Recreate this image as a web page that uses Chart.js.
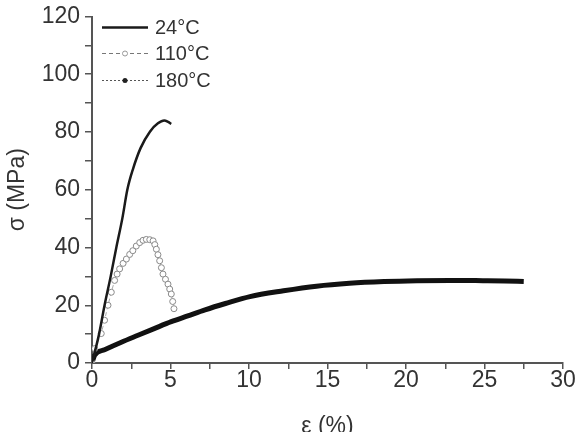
<!DOCTYPE html>
<html>
<head>
<meta charset="utf-8">
<script src="https://cdn.jsdelivr.net/npm/chart.js@4"></script>
<style>
	html, body { margin: 0; padding: 0; background: #fff; }
	canvas { display: block; }
</style>
</head>
<body>
<canvas id="stressChart" width="587" height="432"></canvas>
<script>
// Data
const seriesLabels = ["24°C", "110°C", "180°C"];

const strain24 = [0, 0.45, 0.8, 1.19, 1.55, 1.93, 2.25, 2.6, 3.1, 3.7, 4.2, 4.6, 4.85, 5.05];
const stress24 = [0, 10, 20, 30, 40, 50, 60, 67, 74.5, 80.2, 83, 84, 83.5, 82.8];

const strain110 = [0, 0.17, 0.59, 0.8, 1.02, 1.23, 1.44, 1.6, 1.76, 1.98, 2.19, 2.4, 2.6, 2.82, 3.04, 3.25, 3.46, 3.68, 3.89, 4.0, 4.1, 4.2, 4.31, 4.42, 4.52, 4.68, 4.84, 4.95, 5.05, 5.14, 5.22];
const stress110 = [0, 5, 10.2, 14.8, 20, 24.5, 28.6, 30.8, 32.6, 34.5, 36, 37.6, 38.9, 40.5, 41.7, 42.5, 42.8, 42.7, 42.3, 41, 39.4, 37.5, 35.4, 33, 30.8, 29, 27.3, 25.6, 23.9, 21.3, 18.8];

const strain180 = [0, 0.17, 0.8, 1.87, 2.93, 4.0, 5.05, 6.1, 7.2, 8.5, 10.06, 12.2, 14.3, 16.4, 18.6, 20.7, 22.8, 24.9, 26.3, 27.5];
const stress180 = [0, 2.7, 4.6, 7.2, 9.6, 12, 14.3, 16.3, 18.4, 20.6, 23, 25, 26.6, 27.6, 28.2, 28.5, 28.6, 28.5, 28.4, 28.2];

const xTicks = [0, 5, 10, 15, 20, 25, 30];
const yTicks = [0, 20, 40, 60, 80, 100, 120];

function zip(xs, ys) {
	return xs.map((x, i) => ({ x: x, y: ys[i] }));
}

const axisColor = "#555";
const textColor = "#333";
const fontFamily = "'Liberation Sans', Arial, sans-serif";

// Legend drawn inside the plot, top left
const insideLegend = {
	id: "insideLegend",
	afterDraw(chart) {
		const ctx = chart.ctx;
		const area = chart.chartArea;
		const x0 = area.left + 10;
		const x1 = area.left + 56;
		const tx = area.left + 63;
		const rows = [area.top + 11, area.top + 37, area.top + 64];
		ctx.save();
		ctx.font = "20px " + fontFamily;
		ctx.textBaseline = "middle";
		ctx.fillStyle = textColor;
		chart.data.datasets.forEach((ds, i) => {
			const y = rows[i];
			ctx.beginPath();
			ctx.strokeStyle = ds.legendColor;
			ctx.lineWidth = ds.legendWidth;
			ctx.setLineDash(ds.legendDash);
			ctx.moveTo(x0, y);
			ctx.lineTo(x1, y);
			ctx.stroke();
			ctx.setLineDash([]);
			const mx = (x0 + x1) / 2;
			if (i === 1) {
				ctx.beginPath();
				ctx.fillStyle = "#fff";
				ctx.strokeStyle = "#999";
				ctx.lineWidth = 1;
				ctx.arc(mx, y, 2.5, 0, Math.PI * 2);
				ctx.fill();
				ctx.stroke();
			} else if (i === 2) {
				ctx.beginPath();
				ctx.fillStyle = "#222";
				ctx.arc(mx, y, 2.5, 0, Math.PI * 2);
				ctx.fill();
			}
			ctx.fillStyle = textColor;
			ctx.fillText(ds.label, tx, y + 1);
		});
		ctx.restore();
	},
};

const chart = new Chart(document.getElementById("stressChart"), {
	type: "scatter",
	data: {
		datasets: [
			{
				label: seriesLabels[0],
				data: zip(strain24, stress24),
				showLine: true,
				borderColor: "#1a1a1a",
				borderWidth: 2.5,
				pointRadius: 0,
				cubicInterpolationMode: "monotone",
				legendColor: "#1a1a1a",
				legendWidth: 2.5,
				legendDash: [],
			},
			{
				label: seriesLabels[1],
				data: zip(strain110, stress110),
				showLine: true,
				borderColor: "#aaa",
				borderWidth: 1,
				borderDash: [4, 3],
				pointRadius: 3,
				pointStyle: "circle",
				pointBackgroundColor: "#fff",
				pointBorderColor: "#8a8a8a",
				pointBorderWidth: 1,
				legendColor: "#777",
				legendWidth: 1,
				legendDash: [4, 3],
			},
			{
				label: seriesLabels[2],
				data: zip(strain180, stress180),
				showLine: true,
				borderColor: "#111",
				borderWidth: 5,
				pointRadius: 0,
				cubicInterpolationMode: "monotone",
				legendColor: "#555",
				legendWidth: 1,
				legendDash: [2, 2],
			},
		],
	},
	options: {
		responsive: false,
		animation: false,
		layout: {
			padding: { top: 10, right: 24, left: 0, bottom: 0 },
		},
		plugins: {
			legend: { display: false },
			tooltip: { enabled: false },
		},
		scales: {
			x: {
				type: "linear",
				min: 0,
				max: 30,
				afterFit(scale) {
					scale.height = 69;
				},
				border: { color: axisColor, width: 2 },
				grid: {
					drawOnChartArea: false,
					drawTicks: true,
					tickLength: 6,
					tickColor: axisColor,
					lineWidth: 1.5,
				},
				ticks: {
					stepSize: 2.5,
					padding: 0,
					color: textColor,
					font: { size: 23, family: fontFamily, lineHeight: 1 },
					maxRotation: 0,
					callback: (v) => (xTicks.includes(v) ? String(v) : ""),
				},
				title: {
					display: true,
					text: "ε (%)",
					color: textColor,
					font: { size: 23, family: fontFamily, lineHeight: 1.2 },
					padding: { top: 0, bottom: -8 },
				},
			},
			y: {
				type: "linear",
				min: 0,
				max: 120,
				afterFit(scale) {
					scale.width = 92;
				},
				border: { color: axisColor, width: 2 },
				grid: {
					drawOnChartArea: false,
					drawTicks: true,
					tickLength: 7,
					tickColor: axisColor,
					lineWidth: 1.5,
				},
				ticks: {
					stepSize: 10,
					padding: 5,
					color: textColor,
					font: { size: 23, family: fontFamily, lineHeight: 1 },
					callback: (v) => (yTicks.includes(v) ? String(v) : ""),
				},
				title: {
					display: true,
					text: "σ (MPa)",
					color: textColor,
					font: { size: 23, family: fontFamily, lineHeight: 1.2 },
					padding: { top: 4, bottom: 0 },
				},
			},
		},
	},
	plugins: [insideLegend],
});
</script>
</body>
</html>
